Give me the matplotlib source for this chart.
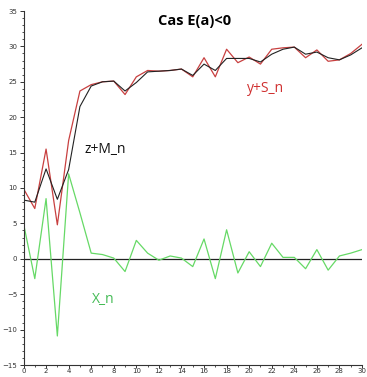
import matplotlib
matplotlib.use("Agg")
import matplotlib.pyplot as plt
from matplotlib.ticker import MultipleLocator

n = list(range(31))
x_n = [5.0, -2.8, 8.5, -10.9, 12.0, 6.5, 0.8, 0.6, 0.1, -1.8, 2.6, 0.8, -0.2, 0.4, 0.1,
       -1.1, 2.8, -2.8, 4.1, -2.0, 1.0, -1.1, 2.2, 0.2, 0.2, -1.4, 1.3, -1.6, 0.4, 0.8, 1.3]
y_s = [9.9, 7.1, 15.5, 4.8, 16.7, 23.7, 24.6, 25.0, 25.1, 23.2, 25.7, 26.6, 26.5, 26.6, 26.8,
       25.7, 28.4, 25.7, 29.6, 27.7, 28.5, 27.5, 29.6, 29.8, 29.9, 28.4, 29.5, 27.9, 28.1, 29.0, 30.3]
z_m = [8.3, 8.0, 12.7, 8.4, 12.6, 21.5, 24.4, 25.0, 25.1, 23.7, 24.9, 26.4, 26.5, 26.6, 26.8,
       25.9, 27.5, 26.6, 28.3, 28.3, 28.3, 27.8, 28.9, 29.6, 29.9, 28.9, 29.2, 28.4, 28.1, 28.8, 29.8]

fig = plt.figure(figsize=(3.67, 3.77), dpi=100)
ax = fig.add_axes([23.5/367, 1-365/377, (362-23.5)/367, (365-11)/377])

ax.axhline(0, color="#222222", lw=0.9, zorder=1)
ax.plot(n, x_n, color="#66d966", lw=0.9)
ax.plot(n, y_s, color="#c84040", lw=0.9)
ax.plot(n, z_m, color="#222222", lw=0.8)

ax.set_xlim(0, 30)
ax.set_ylim(-15, 35)
ax.xaxis.set_major_locator(MultipleLocator(2))
ax.xaxis.set_minor_locator(MultipleLocator(1))
ax.yaxis.set_major_locator(MultipleLocator(5))
ax.yaxis.set_minor_locator(MultipleLocator(1))
for s in ("top", "right"):
    ax.spines[s].set_visible(False)
for s in ("left", "bottom"):
    ax.spines[s].set_color("#333333")
    ax.spines[s].set_linewidth(0.8)
ax.tick_params(which="major", direction="out", length=3, width=0.7, labelsize=5, colors="#333333", pad=1.5)
ax.tick_params(which="minor", direction="out", length=1.5, width=0.6, colors="#333333")
ax.tick_params(axis="x", which="major", length=2, pad=0.5)
ax.tick_params(axis="x", which="minor", length=1.5)

tf = "Open Sans"
ax.text(15.2, 33.6, "Cas E(a)<0", fontsize=10.5, fontweight="bold", family=tf, ha="center", va="center")
ax.text(19.8, 24.0, "y+S_n", fontsize=10, color="#d03030", family=tf, ha="left", va="center")
ax.text(5.4, 15.5, "z+M_n", fontsize=10, color="#111111", family=tf, ha="left", va="center")
ax.text(6.1, -5.7, "X_n", fontsize=10, color="#44bb55", family=tf, ha="left", va="center")

fig.savefig("out.png", dpi=100)
